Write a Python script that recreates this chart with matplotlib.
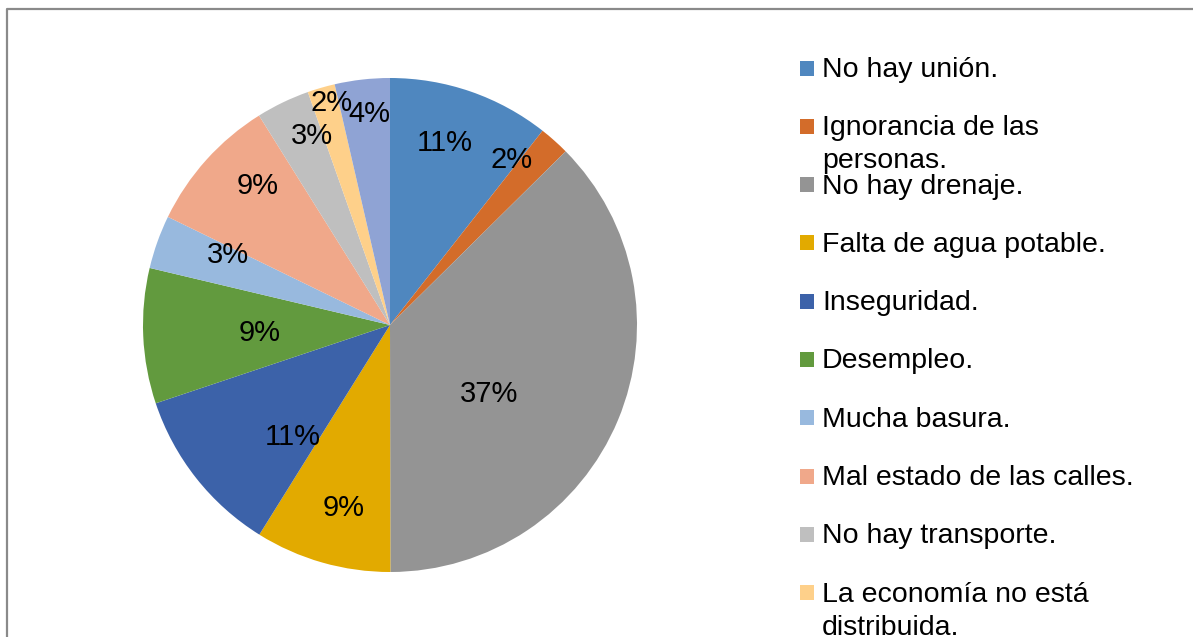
import numpy as np
import matplotlib
matplotlib.use("Agg")
import matplotlib.pyplot as plt
from matplotlib.patches import Rectangle

# ---- data ----
categories = [
    "No hay unión.",
    "Ignorancia de las\npersonas.",
    "No hay drenaje.",
    "Falta de agua potable.",
    "Inseguridad.",
    "Desempleo.",
    "Mucha basura.",
    "Mal estado de las calles.",
    "No hay transporte.",
    "La economía no está\ndistribuida.",
    "Otros.",
]
values = [10.6, 2.0, 37.4, 8.9, 11.0, 8.85, 3.5, 8.9, 3.5, 1.8, 3.6]
pct_labels = ["11%", "2%", "37%", "9%", "11%", "9%", "3%", "9%", "3%", "2%", "4%"]
colors = ["#4F87BF", "#D36C2A", "#949494", "#E2AA00", "#3C62A9", "#629A3E",
          "#98B9DE", "#F0A88A", "#BFBFBF", "#FED08A", "#8FA3D4"]

# ---- layout (label placement relative to each wedge) ----
label_radius = [0.77, 0.83, 0.49, 0.765, 0.60, 0.527, 0.714, 0.776, 0.829, 0.931, 0.858]
label_dangle = [2.3, 5.2, -12.2, 1.6, 10.6, 1.1, -3.9, -4.4, -3.2, -1.4, -1.0]

W, H = 1193, 637
fig = plt.figure(figsize=(W / 100, H / 100), dpi=100)
fig.patch.set_facecolor("white")

FONT = "Liberation Sans"

cx, cy, R = 390, 325, 247
ax = fig.add_axes([(cx - R) / W, (H - cy - R) / H, 2 * R / W, 2 * R / H])
wedges, _ = ax.pie(values, colors=colors, startangle=90, counterclock=False,
                   radius=1.0, wedgeprops=dict(linewidth=0))
ax.set_xlim(-1, 1)
ax.set_ylim(-1, 1)
ax.set_aspect("equal")
ax.axis("off")

for w, lab, r, da in zip(wedges, pct_labels, label_radius, label_dangle):
    mid = np.deg2rad((w.theta1 + w.theta2) / 2 + da)
    ax.text(r * np.cos(mid), r * np.sin(mid), lab, ha="center", va="center",
            fontsize=21, family=FONT, color="black")

# overlay axes in pixel coordinates for legend and frame
ov2 = fig.add_axes([0, 0, 1, 1])
ov2.set_xlim(0, W)
ov2.set_ylim(H, 0)
ov2.axis("off")
ov2.patch.set_alpha(0)

# chart frame (bottom/right outside canvas)
ov2.plot([6.5, 6.5, W + 5], [H + 5, 8.5, 8.5], color="#8A8A8A", lw=1.6,
         solid_capstyle="butt", clip_on=False)

# manual legend (Excel-style, fixed spacing so wrapped labels overlap)
base0, step, sq_x = 77, 58.3, 800
for i, (cat, col) in enumerate(zip(categories, colors)):
    yb = base0 + i * step
    ov2.add_patch(Rectangle((sq_x, yb - 16.5), 14, 15, facecolor=col,
                            edgecolor="none", clip_on=True))
    for j, line in enumerate(cat.split("\n")):
        ov2.text(822, yb + j * 33, line, ha="left", va="baseline",
                 fontsize=20.5, family=FONT, color="black")

fig.savefig("out.png", dpi=100, facecolor="white")
